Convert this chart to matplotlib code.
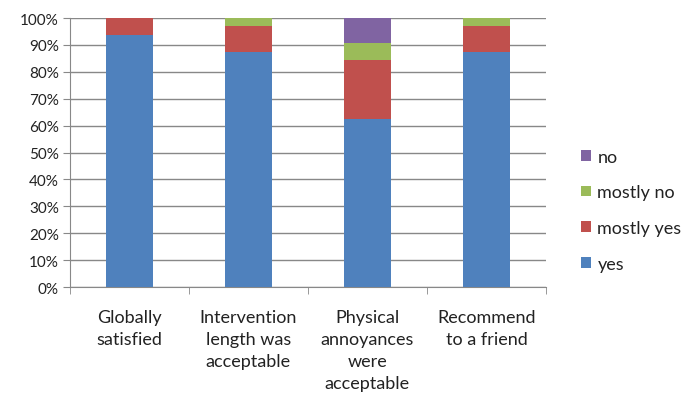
import matplotlib
matplotlib.use("Agg")
import matplotlib.pyplot as plt
import numpy as np

categories = ["Globally\nsatisfied", "Intervention\nlength was\nacceptable",
              "Physical\nannoyances\nwere\nacceptable", "Recommend\nto a friend"]
series_names = ["yes", "mostly yes", "mostly no", "no"]
yes = [93.75, 87.5, 62.5, 87.5]
mostly_yes = [6.25, 9.375, 21.875, 9.375]
mostly_no = [0, 3.125, 6.25, 3.125]
no = [0, 0, 9.375, 0]
colors = ["#4F81BD", "#C0504D", "#9BBB59", "#8064A2"]

plt.rcParams['font.family'] = ['Lato', 'DejaVu Sans']
fig = plt.figure(figsize=(6.85, 4.06), dpi=100)
ax = fig.add_axes([0.102, 0.2906, 0.695, 0.6625])

x = np.arange(len(categories))
bottom = np.zeros(len(categories))
handles = []
for name, vals, c in zip(series_names, [yes, mostly_yes, mostly_no, no], colors):
    h = ax.bar(x, vals, 0.4, bottom=bottom, color=c, label=name, zorder=3)
    handles.append(h)
    bottom += np.array(vals)

ax.set_xlim(-0.5, len(categories) - 0.5)
ax.set_ylim(0, 100)
ax.set_yticks(np.arange(0, 101, 10))
ax.set_yticklabels([f"{v}%" for v in range(0, 101, 10)], fontsize=11, color="#222222")
ax.yaxis.grid(True, color="#888888", linewidth=1, zorder=0)
ax.set_xticks(x)
ax.set_xticklabels(categories, fontsize=13, color="#222222", linespacing=1.45, va="top")
ax.set_xticks(np.arange(-0.5, len(categories), 1), minor=True)
ax.tick_params(axis="x", which="major", length=0, pad=16)
ax.tick_params(axis="x", which="minor", length=5, color="#888888")
ax.tick_params(axis="y", length=5, color="#888888", pad=3)
for s in ["top", "right"]:
    ax.spines[s].set_visible(False)
ax.spines["left"].set_color("#888888")
ax.spines["bottom"].set_color("#888888")

leg = ax.legend(handles[::-1], series_names[::-1], loc="center left",
                bbox_to_anchor=(1.04, 0.285), frameon=False, fontsize=13,
                handlelength=0.55, handleheight=0.55, handletextpad=0.35,
                labelspacing=1.1)
for t in leg.get_texts():
    t.set_color("#222222")

fig.savefig("out.png", dpi=100)
